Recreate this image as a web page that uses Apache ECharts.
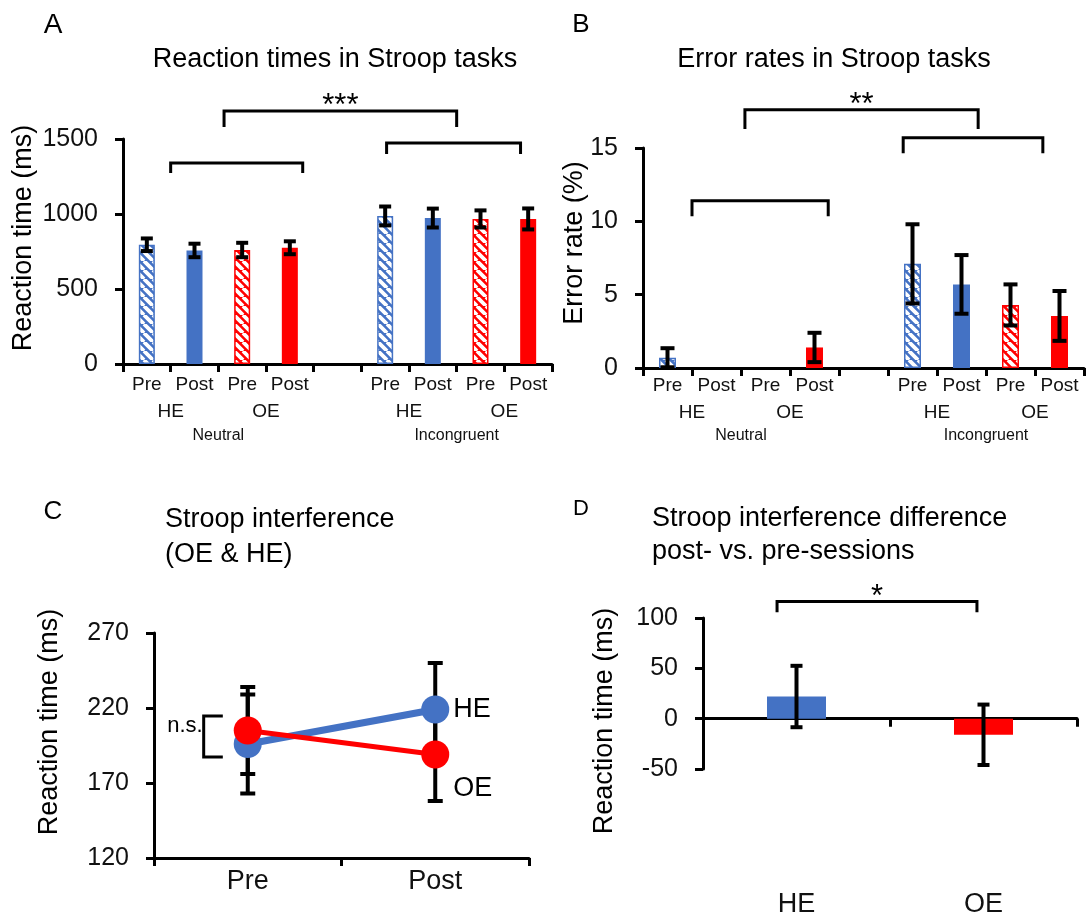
<!DOCTYPE html>
<html><head><meta charset="utf-8">
<script src="https://cdn.jsdelivr.net/npm/echarts@6/dist/echarts.min.js"></script>
<style>html,body{margin:0;padding:0;background:#fff}#c{width:1087px;height:918px}</style>
</head><body><div id="c"></div>
<script>
// ---------------- Data ----------------
const rtCategories = ['Pre','Post','Pre','Post','','Pre','Post','Pre','Post'];
const groupLabels = ['','HE','','OE','','','HE','','OE',''];
const condLabels = ['','','Neutral','','','','','Incongruent','',''];
// order: HE Pre, HE Post, OE Pre, OE Post
const rtNeutral = [795, 757, 760, 775];
const rtNeutralErr = [42, 45, 48, 43];
const rtIncongruent = [987, 973, 967, 967];
const rtIncongruentErr = [63, 63, 57, 70];
const erNeutral = [0.7, 0, 0, 1.4];
const erNeutralErr = [0.65, 0, 0, 1.0];
const erIncongruent = [7.1, 5.7, 4.3, 3.55];
const erIncongruentErr = [2.7, 2.0, 1.4, 1.7];
const sessions = ['Pre','Post'];
const interfHE = [196, 219];
const interfHEErr = [33, 31];
const interfOE = [205, 189];
const interfOEErr = [29, 31];
const diffGroups = ['HE','OE'];
const diffValues = [22, -16];
const diffErr = [30.5, 30];
const yTicksA = [0, 1500, 500];
const yTicksB = [0, 15, 5];
const yTicksC = [120, 270, 50];
const yTicksD = [-50, 100, 50];
// significance brackets: [from(cat units), to, top value, drop value, text]
const bracketsA = [[1.62, 6.5, 1687, 1580, '***'], [0.5, 3.27, 1340, 1273, ''], [5.03, 7.84, 1473, 1400, '']];
const bracketsB = [[1.58, 6.34, 17.6, 16.3, '**'], [0.5, 3.28, 11.4, 10.35, ''], [4.81, 7.66, 15.7, 14.65, '']];
const bracketsD = [[-0.104, 0.965, 116.5, 105.8, '*']];
const nsBracketC = [[-0.235, -0.133, 214.7, 187.3, 'n.s.']];

// ---------------- Styles ----------------
const BLUE = '#4472C4', RED = '#FF0000';
const FONT = 'Liberation Sans, Arial, sans-serif';
function hatch(color){
  const s = 9, c = document.createElement('canvas'); c.width = c.height = s;
  const g = c.getContext('2d'); g.fillStyle = color; g.fillRect(0,0,s,s);
  g.strokeStyle = '#fff'; g.lineWidth = 3.8; g.beginPath();
  for (const k of [-s, 0, s]) { g.moveTo(k, 0); g.lineTo(k + s, s); }
  g.stroke(); return c;
}
const condStyles = [
  {color: {image: hatch(BLUE), repeat: 'repeat'}, borderColor: BLUE, borderWidth: 1.5},
  {color: BLUE},
  {color: {image: hatch(RED), repeat: 'repeat'}, borderColor: RED, borderWidth: 1.5},
  {color: RED}
];
function barData(neu, inc){
  const item = (v, j) => v === 0 ? '-' : {value: v, itemStyle: condStyles[j]};
  return [...neu.map(item), '-', ...inc.map(item)];
}
function errData(neu, neuE, inc, incE){
  const out = [];
  neu.forEach((v, j) => out.push([j, v, neuE[j]]));
  inc.forEach((v, j) => out.push([j + 5, v, incE[j]]));
  return out;
}
function errSeries(xi, yi, data, capHalf, lw, z){
  return {type: 'custom', xAxisIndex: xi, yAxisIndex: yi, z: z || 5, silent: true,
    data: data, encode: {x: 0, y: 1},
    renderItem: function(params, api){
      const x = api.value(0), v = api.value(1), e = api.value(2);
      if (!e) return {type: 'group', children: []};
      const t = api.coord([x, v + e]), b = api.coord([x, v - e]);
      const st = {stroke: '#000', lineWidth: lw};
      return {type: 'group', children: [
        {type: 'line', shape: {x1: t[0], y1: t[1], x2: b[0], y2: b[1]}, style: st},
        {type: 'line', shape: {x1: t[0] - capHalf, y1: t[1], x2: t[0] + capHalf, y2: t[1]}, style: st},
        {type: 'line', shape: {x1: b[0] - capHalf, y1: b[1], x2: b[0] + capHalf, y2: b[1]}, style: st}
      ]};
    }};
}
function bracketSeries(xi, yi, list, fontSize){
  return {type: 'custom', xAxisIndex: xi, yAxisIndex: yi, z: 6, silent: true, clip: false,
    data: list.map(b => [0, b[2], b[0], b[1], b[3]]), encode: {x: 0, y: 1},
    renderItem: function(params, api){
      const base = api.coord([0, api.value(1)]);
      const bw = api.size([1, 0])[0];
      const x1 = base[0] + api.value(2) * bw, x2 = base[0] + api.value(3) * bw;
      const yt = base[1], yd = api.coord([0, api.value(4)])[1];
      const txt = list[params.dataIndex][4];
      const ch = [{type: 'polyline', shape: {points: [[x1, yd], [x1, yt], [x2, yt], [x2, yd]]},
        style: {stroke: '#000', lineWidth: 3, fill: null}}];
      if (txt) ch.push({type: 'text', x: (x1 + x2) / 2, y: yt - 4,
        style: {text: txt, fontSize: fontSize, fontFamily: FONT, fill: '#000', align: 'center', verticalAlign: 'middle'}});
      return {type: 'group', children: ch};
    }};
}
function nsSeries(xi, yi, list){
  return {type: 'custom', xAxisIndex: xi, yAxisIndex: yi, z: 6, silent: true, clip: false,
    data: list.map(b => [0, b[2], b[0], b[1], b[3]]), encode: {x: 0, y: 1},
    renderItem: function(params, api){
      const base = api.coord([0, api.value(1)]);
      const bw = api.size([1, 0])[0];
      const x1 = base[0] + api.value(2) * bw, x2 = base[0] + api.value(3) * bw;
      const yt = base[1], yb = api.coord([0, api.value(4)])[1];
      return {type: 'group', children: [
        {type: 'polyline', shape: {points: [[x2, yt], [x1, yt], [x1, yb], [x2, yb]]}, style: {stroke: '#000', lineWidth: 3, fill: null}},
        {type: 'text', x: x1 - 1, y: yt + 10, style: {text: list[params.dataIndex][4], fontSize: 22, fontFamily: FONT, fill: '#000', align: 'right', verticalAlign: 'middle'}}
      ]};
    }};
}
const axLine = {show: true, onZero: true, lineStyle: {color: '#000', width: 3}};
const axTick = {show: true, length: 8, lineStyle: {color: '#000', width: 3}};
function mainX(grid, data, fontSize, margin){
  return {type: 'category', gridIndex: grid, position: 'bottom', data: data,
    axisLine: axLine, axisTick: Object.assign({interval: 0}, axTick),
    axisLabel: {interval: 0, fontSize: fontSize, margin: margin, color: '#111', fontFamily: FONT}};
}
function labelX(grid, data, fontSize, margin){
  return {type: 'category', gridIndex: grid, position: 'bottom', data: data, boundaryGap: false,
    axisLine: {show: false, onZero: false}, axisTick: {show: false}, splitLine: {show: false},
    axisLabel: {interval: 0, fontSize: fontSize, margin: margin, color: '#111', fontFamily: FONT}};
}
function valY(grid, t){
  return {type: 'value', gridIndex: grid, min: t[0], max: t[1], interval: t[2],
    axisLine: {show: true, lineStyle: {color: '#000', width: 3}}, axisTick: axTick,
    splitLine: {show: false},
    axisLabel: {fontSize: 25, margin: 25, color: '#111', fontFamily: FONT, formatter: v => String(v)}};
}
function txt(x, y, s, size, align, rot){
  return {type: 'text', x: x, y: y, rotation: rot || 0,
    style: {text: s, fontSize: size, fontFamily: FONT, fill: '#000', align: align || 'center', verticalAlign: 'middle'}};
}
const lastLabel = (arr, name, offset) => arr.map((v, i) => i === arr.length - 1 ?
  {value: v, label: {show: true, formatter: name, position: 'right', distance: 4, offset: offset, fontSize: 27, color: '#000', fontFamily: FONT}} : v);

const option = {
  animation: false,
  backgroundColor: '#fff',
  textStyle: {fontFamily: FONT},
  grid: [
    {left: 123, top: 139, width: 429, height: 225},
    {left: 643, top: 148, width: 441, height: 220},
    {left: 154, top: 633, width: 375, height: 225},
    {left: 703, top: 618, width: 374, height: 224}
  ],
  xAxis: [
    mainX(0, rtCategories, 19, 11), labelX(0, groupLabels, 19, 38), labelX(0, condLabels, 16, 64),
    mainX(1, rtCategories, 19, 8), labelX(1, groupLabels, 19, 35), labelX(1, condLabels, 16, 60),
    mainX(2, sessions, 27, 10),
    mainX(3, diffGroups, 27, 122)
  ],
  yAxis: [valY(0, yTicksA), valY(1, yTicksB), valY(2, yTicksC), valY(3, yTicksD)],
  graphic: [
    txt(53, 25, 'A', 28), txt(581, 25, 'B', 26), txt(53, 512, 'C', 26), txt(581, 509, 'D', 22),
    txt(335, 60, 'Reaction times in Stroop tasks', 27),
    txt(834, 60, 'Error rates in Stroop tasks', 27),
    txt(165, 520, 'Stroop interference', 27, 'left'), txt(165, 555, '(OE & HE)', 27, 'left'),
    txt(652, 519, 'Stroop interference difference', 27, 'left'), txt(652, 552, 'post- vs. pre-sessions', 27, 'left'),
    txt(24, 238, 'Reaction time (ms)', 27, 'center', Math.PI / 2),
    txt(575, 243, 'Error rate (%)', 27, 'center', Math.PI / 2),
    txt(50, 722, 'Reaction time (ms)', 27, 'center', Math.PI / 2),
    txt(605, 721, 'Reaction time (ms)', 27, 'center', Math.PI / 2)
  ],
  series: [
    {type: 'bar', xAxisIndex: 0, yAxisIndex: 0, barWidth: 16, data: barData(rtNeutral, rtIncongruent), z: 2},
    errSeries(0, 0, errData(rtNeutral, rtNeutralErr, rtIncongruent, rtIncongruentErr), 6, 4),
    bracketSeries(0, 0, bracketsA, 31),
    {type: 'bar', xAxisIndex: 3, yAxisIndex: 1, barWidth: 17, data: barData(erNeutral, erIncongruent), z: 2},
    errSeries(3, 1, errData(erNeutral, erNeutralErr, erIncongruent, erIncongruentErr), 7, 4),
    bracketSeries(3, 1, bracketsB, 31),
    errSeries(6, 2, [[0, interfHE[0], interfHEErr[0]], [1, interfHE[1], interfHEErr[1]], [0, interfOE[0], interfOEErr[0]], [1, interfOE[1], interfOEErr[1]]], 7.5, 4, 1),
    {type: 'line', xAxisIndex: 6, yAxisIndex: 2, data: lastLabel(interfHE, 'HE', [0, 0]), z: 3,
      symbol: 'circle', symbolSize: 28, lineStyle: {color: BLUE, width: 7}, itemStyle: {color: BLUE}},
    {type: 'line', xAxisIndex: 6, yAxisIndex: 2, data: lastLabel(interfOE, 'OE', [0, 34]), z: 4,
      symbol: 'circle', symbolSize: 28, lineStyle: {color: RED, width: 5}, itemStyle: {color: RED}},
    nsSeries(6, 2, nsBracketC),
    {type: 'bar', xAxisIndex: 7, yAxisIndex: 3, barWidth: 59, z: 2,
      data: diffValues.map((v, i) => ({value: v, itemStyle: {color: i === 0 ? BLUE : RED}}))},
    errSeries(7, 3, diffValues.map((v, i) => [i, v, diffErr[i]]), 6, 4),
    bracketSeries(7, 3, bracketsD, 31)
  ]
};
const chart = echarts.init(document.getElementById('c'), null, {renderer: 'canvas'});
chart.setOption(option);
</script></body></html>
